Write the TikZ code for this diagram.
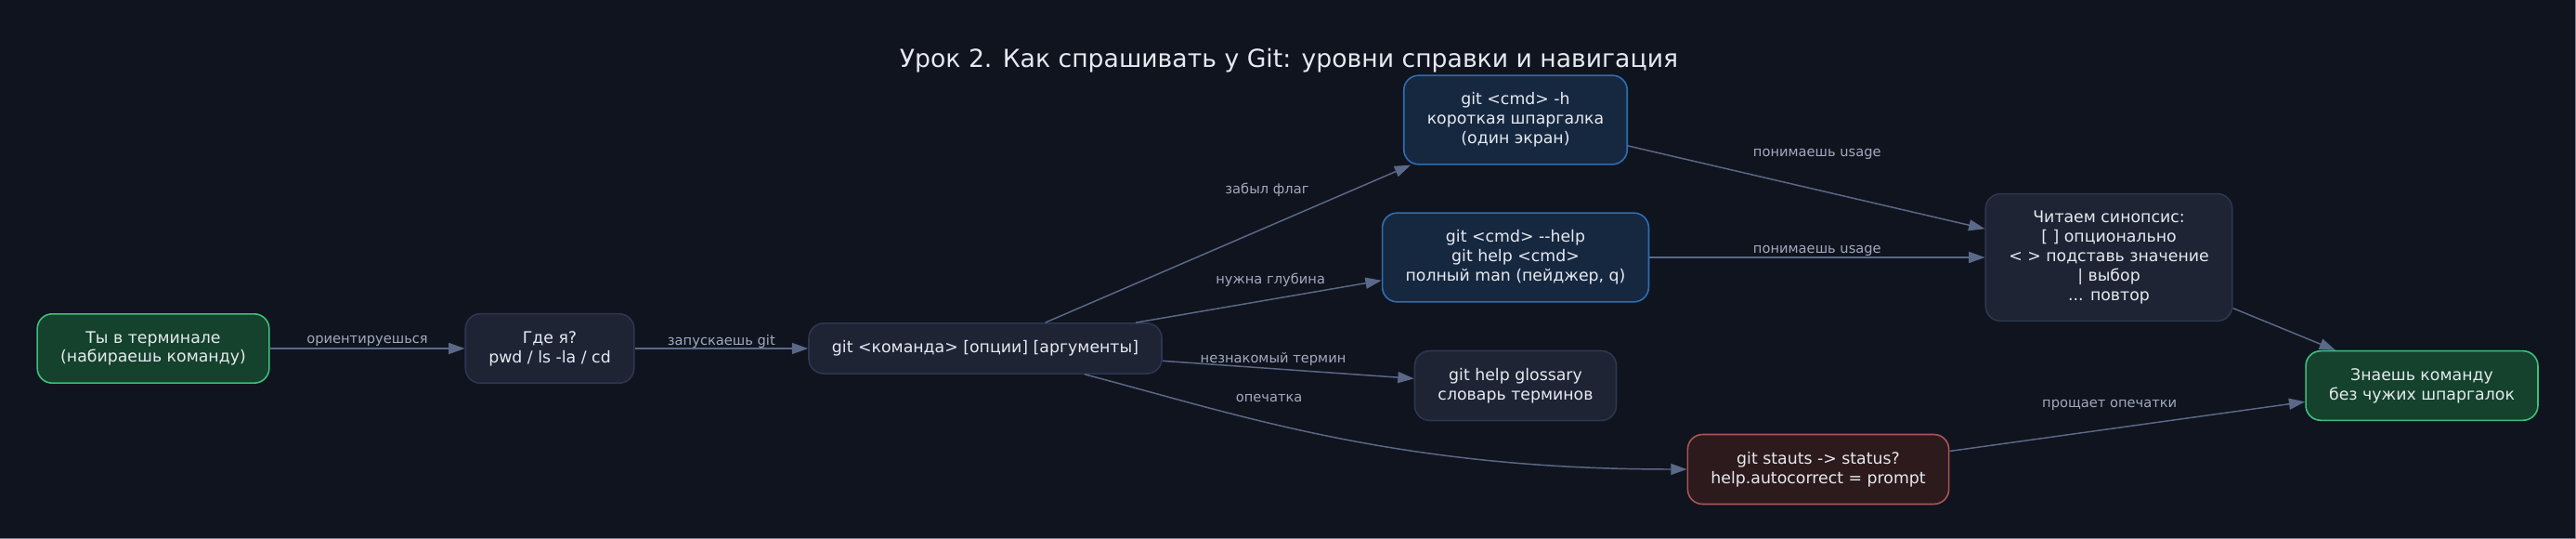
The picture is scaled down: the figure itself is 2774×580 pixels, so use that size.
\documentclass[tikz,border=0pt]{standalone}
\usepackage{fontspec}
\setmainfont{DejaVu Sans}
\usetikzlibrary{arrows.meta}
\definecolor{bgcol}{HTML}{10141F}
\definecolor{framecol}{HTML}{7E8494}
\definecolor{boxfill}{HTML}{1E2434}
\definecolor{boxline}{HTML}{2D3650}
\definecolor{boxtext}{HTML}{E6E9F0}
\definecolor{okfill}{HTML}{14422C}
\definecolor{okline}{HTML}{3EBE7D}
\definecolor{helpfill}{HTML}{162840}
\definecolor{helpline}{HTML}{2D6EB4}
\definecolor{typofill}{HTML}{2C1A1C}
\definecolor{typoline}{HTML}{AA5555}
\definecolor{linkcol}{HTML}{5A6987}
\definecolor{lbltext}{HTML}{A0AABE}

\begin{document}
\begin{tikzpicture}[x=0.75pt,y=-0.75pt,node distance=320.25pt,
  >={Triangle[length=13pt,width=9pt]},
  box/.style={draw=boxline,fill=boxfill,rounded corners=12pt,line width=1.2pt,text=boxtext,align=center,inner xsep=18.75pt,inner ysep=14pt,font=\fontsize{13pt}{15.6pt}\selectfont},
  startbox/.style={box,draw=okline,fill=okfill},
  helpbox/.style={box,draw=helpline,fill=helpfill},
  typobox/.style={box,draw=typoline,fill=typofill},
  lbl/.style={text=lbltext,inner sep=0pt,font=\fontsize{11pt}{13pt}\selectfont},
  link/.style={->,draw=linkcol,fill=none,line width=1.1pt},
  titletxt/.style={text=boxtext,font=\fontsize{20pt}{24pt}\selectfont}]
\path[use as bounding box,fill=bgcol] (0,0) rectangle (2774,580);
\draw[framecol,line width=0.75pt] (2773.5,0) -- (2773.5,579.5) -- (0,579.5);

\node[titletxt] (title) at (1388,65) {Урок 2. Как спрашивать у Git: уровни справки и навигация};

\node[startbox] (term) at (165,375) {Ты в терминале\\(набираешь команду)};
\node[box,right of=term] (where) {Где я?\\pwd / ls -la / cd};
\node[box,right of=where,xshift=31.5pt] (gitcmd) {git <команда> [опции] [аргументы]};
\node[helpbox,right of=gitcmd,xshift=108pt,yshift=184.5pt] (short) {git <cmd> -h\\короткая шпаргалка\\(один экран)};
\node[helpbox,right of=gitcmd,xshift=108pt,yshift=73.5pt] (fullhelp) {git <cmd> -{}-help\\git help <cmd>\\полный man (пейджер, q)};
\node[box,right of=gitcmd,xshift=108pt,yshift=-30pt] (glossary) {git help glossary\\словарь терминов};
\node[typobox,right of=gitcmd,xshift=352.5pt,yshift=-97.5pt] (typo) {git stauts -> status?\\help.autocorrect = prompt};
\node[box,right of=fullhelp,xshift=159pt] (synopsis) {Читаем синопсис:\\{[ ]} опционально\\< > подставь значение\\| выбор\\... повтор};
\node[startbox,right of=synopsis,xshift=-67.5pt,yshift=-103.5pt] (know) {Знаешь команду\\без чужих шпаргалок};

\draw[link] (term) -- node[lbl,midway,yshift=6pt] {ориентируешься} (where);
\draw[link] (where) -- node[lbl,midway,yshift=6pt] {запускаешь git} (gitcmd);
\draw[link] (gitcmd) -- node[lbl,pos=.607,yshift=30pt] {забыл флаг} (short);
\draw[link] (gitcmd) -- node[lbl,pos=.548,yshift=16pt] {нужна глубина} (fullhelp);
\draw[link] (gitcmd) -- node[lbl,pos=.44,yshift=8pt] {незнакомый термин} (glossary);
\draw[link] (gitcmd) .. controls (1330,445) and (1500,505) .. node[lbl,pos=.385,yshift=20pt] {опечатка} (typo);
\draw[link] (short) -- node[lbl,pos=.53,yshift=29pt] {понимаешь usage} (synopsis);
\draw[link] (fullhelp) -- node[lbl,midway,yshift=5pt] {понимаешь usage} (synopsis);
\draw[link] (synopsis) -- (know);
\draw[link] (typo) -- node[lbl,pos=.45,yshift=19pt] {прощает опечатки} (know);
\end{tikzpicture}
\end{document}
